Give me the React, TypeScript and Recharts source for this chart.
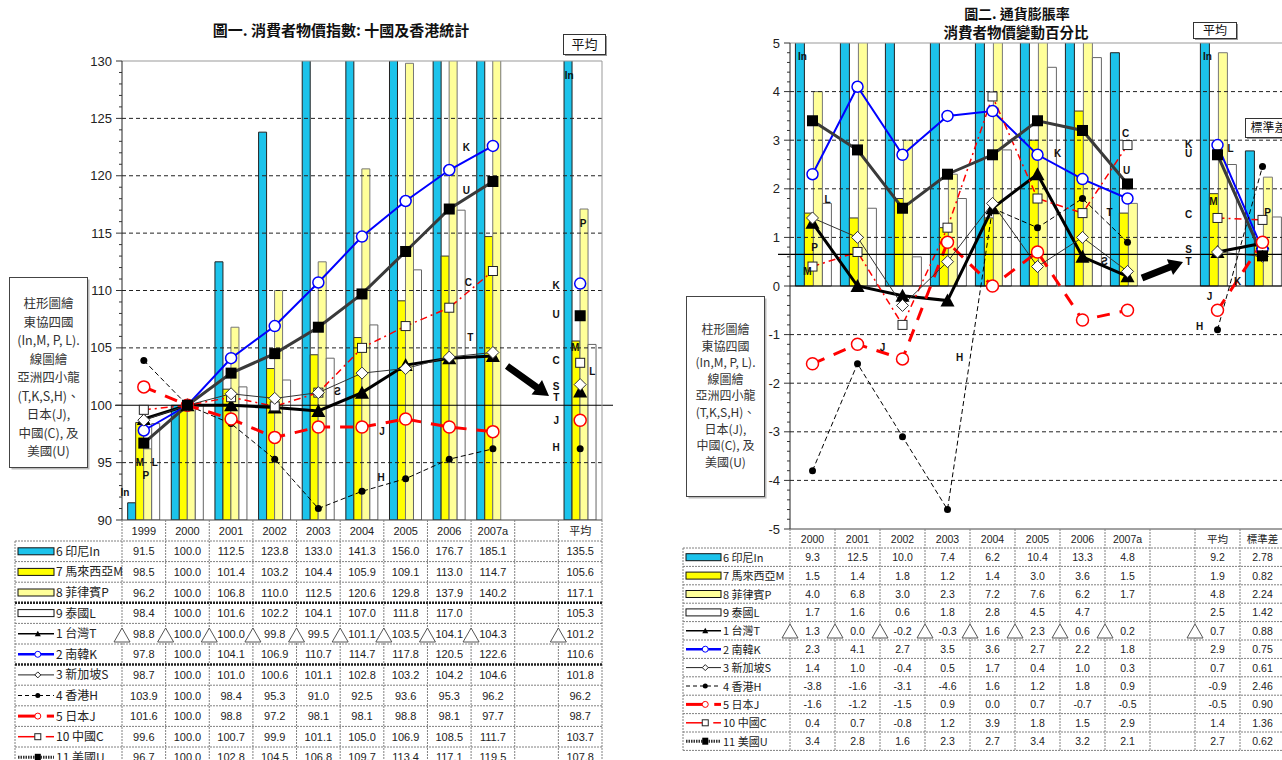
import React from 'react';
import { ComposedChart, Bar, Line, XAxis, YAxis, ReferenceLine, ReferenceDot } from 'recharts';

const SANS = '"Liberation Sans", Arial, sans-serif';
const CJK = '"Noto Sans CJK TC", "Noto Sans", sans-serif';

const CYAN = '#1CC3EB';
const YELLOW = '#FFFF00';
const PALE = '#FFFF99';
const RED = '#FF0000';
const BLUE = '#0000FF';

// 圖一: price index, 2000 = 100
const CATS_A = ['1999', '2000', '2001', '2002', '2003', '2004', '2005', '2006', '2007a', '', '平均'];
const IN_A = [91.5, 100.0, 112.5, 123.8, 133.0, 141.3, 156.0, 176.7, 185.1, null, 135.5];
const MY_A = [98.5, 100.0, 101.4, 103.2, 104.4, 105.9, 109.1, 113.0, 114.7, null, 105.6];
const PH_A = [96.2, 100.0, 106.8, 110.0, 112.5, 120.6, 129.8, 137.9, 140.2, null, 117.1];
const TH_A = [98.4, 100.0, 101.6, 102.2, 104.1, 107.0, 111.8, 117.0, null, null, 105.3];
const TW_A = [98.8, 100.0, 100.0, 99.8, 99.5, 101.1, 103.5, 104.1, 104.3, null, 101.2];
const KR_A = [97.8, 100.0, 104.1, 106.9, 110.7, 114.7, 117.8, 120.5, 122.6, null, 110.6];
const SG_A = [98.7, 100.0, 101.0, 100.6, 101.1, 102.8, 103.2, 104.2, 104.6, null, 101.8];
const HK_A = [103.9, 100.0, 98.4, 95.3, 91.0, 92.5, 93.6, 95.3, 96.2, null, 96.2];
const JP_A = [101.6, 100.0, 98.8, 97.2, 98.1, 98.1, 98.8, 98.1, 97.7, null, 98.7];
const CN_A = [99.6, 100.0, 100.7, 99.9, 101.1, 105.0, 106.9, 108.5, 111.7, null, 103.7];
const US_A = [96.7, 100.0, 102.8, 104.5, 106.8, 109.7, 113.4, 117.1, 119.5, null, 107.8];

// 圖二: inflation, % change
const CATS_B = ['2000', '2001', '2002', '2003', '2004', '2005', '2006', '2007a', '', '平均', '標準差'];
const IN_B = [9.3, 12.5, 10.0, 7.4, 6.2, 10.4, 13.3, 4.8, null, 9.2, 2.78];
const MY_B = [1.5, 1.4, 1.8, 1.2, 1.4, 3.0, 3.6, 1.5, null, 1.9, 0.82];
const PH_B = [4.0, 6.8, 3.0, 2.3, 7.2, 7.6, 6.2, 1.7, null, 4.8, 2.24];
const TH_B = [1.7, 1.6, 0.6, 1.8, 2.8, 4.5, 4.7, null, null, 2.5, 1.42];
const TW_B = [1.3, 0.0, -0.2, -0.3, 1.6, 2.3, 0.6, 0.2, null, 0.7, 0.88];
const KR_B = [2.3, 4.1, 2.7, 3.5, 3.6, 2.7, 2.2, 1.8, null, 2.9, 0.75];
const SG_B = [1.4, 1.0, -0.4, 0.5, 1.7, 0.4, 1.0, 0.3, null, 0.7, 0.61];
const HK_B = [-3.8, -1.6, -3.1, -4.6, 1.6, 1.2, 1.8, 0.9, null, -0.9, 2.46];
const JP_B = [-1.6, -1.2, -1.5, 0.9, 0.0, 0.7, -0.7, -0.5, null, -0.5, 0.90];
const CN_B = [0.4, 0.7, -0.8, 1.2, 3.9, 1.8, 1.5, 2.9, null, 1.4, 1.36];
const US_B = [3.4, 2.8, 1.6, 2.3, 2.7, 3.4, 3.2, 2.1, null, 2.7, 0.62];

const TICKS_A = Array.from({ length: 41 }, (_, i) => 90 + i);
const TICKS_B = Array.from({ length: 51 }, (_, i) => Math.round((-5 + i * 0.2) * 10) / 10);
const GRID_A = [95, 105, 110, 115, 120, 125];
const GRID_B = [-4, -3, -2, -1, 1, 2, 3, 4];
const BASE_A = 100;
const BASE_B = 0.65;

const KEYS = ['In', 'M', 'P', 'L', 'T', 'K', 'S', 'H', 'J', 'C', 'U'];
const ROW_LABELS = ['6 印尼In', '7 馬來西亞M', '8 菲律賓P', '9 泰國L', '1 台灣T', '2 南韓K', '3 新加坡S', '4 香港H', '5 日本J', '10 中國C', '11 美國U'];
const NOTE_LINES = ['柱形圖繪', '東協四國', '(In,M, P, L).', '線圖繪', '亞洲四小龍', '(T,K,S,H)、', '日本(J),', '中國(C), 及', '美國(U)'];

const SERIES_A = [IN_A, MY_A, PH_A, TH_A, TW_A, KR_A, SG_A, HK_A, JP_A, CN_A, US_A];
const SERIES_B = [IN_B, MY_B, PH_B, TH_B, TW_B, KR_B, SG_B, HK_B, JP_B, CN_B, US_B];

type Note = { x: string; y: number; t: string; dx: number; flip?: boolean };

const NOTES_A: Note[] = [
  { x: '2006', y: 122.5, t: 'K', dx: 17 },
  { x: '2006', y: 118.7, t: 'U', dx: 17 },
  { x: '2006', y: 110.7, t: 'C', dx: 19 },
  { x: '2006', y: 105.9, t: 'T', dx: 21 },
  { x: '2003', y: 101.2, t: 'S', dx: 19, flip: true },
  { x: '2004', y: 97.7, t: 'J', dx: 20 },
  { x: '2004', y: 93.7, t: 'H', dx: 19 },
  { x: '平均', y: 110.4, t: 'K', dx: -24 },
  { x: '平均', y: 107.9, t: 'U', dx: -24 },
  { x: '平均', y: 103.9, t: 'C', dx: -24 },
  { x: '平均', y: 101.6, t: 'S', dx: -24 },
  { x: '平均', y: 100.7, t: 'T', dx: -24 },
  { x: '平均', y: 98.7, t: 'J', dx: -24 },
  { x: '平均', y: 96.3, t: 'H', dx: -24 },
  { x: '平均', y: 128.7, t: 'In', dx: -11 },
  { x: '平均', y: 115.8, t: 'P', dx: 3 },
  { x: '平均', y: 105.0, t: 'M', dx: -5 },
  { x: '平均', y: 102.9, t: 'L', dx: 12 },
  { x: '1999', y: 92.4, t: 'In', dx: -19 },
  { x: '1999', y: 95.0, t: 'M', dx: -4 },
  { x: '1999', y: 93.9, t: 'P', dx: 2 },
  { x: '1999', y: 95.0, t: 'L', dx: 11 },
];

const NOTES_B: Note[] = [
  { x: '2000', y: 4.73, t: 'In', dx: -10 },
  { x: '2000', y: 0.8, t: 'P', dx: 2 },
  { x: '2000', y: 0.29, t: 'M', dx: -5 },
  { x: '2000', y: 1.79, t: 'L', dx: 15 },
  { x: '2005', y: 2.72, t: 'K', dx: 20 },
  { x: '2007a', y: 3.13, t: 'C', dx: -2 },
  { x: '2007a', y: 2.37, t: 'U', dx: -1 },
  { x: '2006', y: 1.52, t: 'T', dx: 27 },
  { x: '2006', y: 0.51, t: 'S', dx: 22, flip: true },
  { x: '2001', y: -1.26, t: 'J', dx: 25 },
  { x: '2003', y: -1.48, t: 'H', dx: 12 },
  { x: '平均', y: 2.92, t: 'K', dx: -29 },
  { x: '平均', y: 2.72, t: 'U', dx: -29 },
  { x: '平均', y: 1.48, t: 'C', dx: -29 },
  { x: '平均', y: 0.76, t: 'S', dx: -29 },
  { x: '平均', y: 0.51, t: 'T', dx: -29 },
  { x: '平均', y: 4.73, t: 'In', dx: -10 },
  { x: '平均', y: 1.73, t: 'M', dx: -4 },
  { x: '平均', y: 2.82, t: 'L', dx: 13 },
  { x: '標準差', y: 1.52, t: 'P', dx: 5 },
  { x: '標準差', y: 0.1, t: 'K', dx: -25 },
  { x: '平均', y: -0.21, t: 'J', dx: -8 },
  { x: '平均', y: -0.84, t: 'H', dx: -18 },
];

const rowsOf = (cats: string[], series: (number | null)[][]) =>
  cats.map((cat, i) => {
    const row: Record<string, any> = { cat };
    KEYS.forEach((k, j) => (row[k] = series[j][i]));
    return row;
  });

// ---- markers ----
const dotOf = (draw: (cx: number, cy: number) => React.ReactNode) => (p: any) => {
  if (p.cx == null || p.cy == null || p.value == null) return <g key={`d${p.index}`} />;
  return <g key={`d${p.index}`}>{draw(p.cx, p.cy)}</g>;
};
const triDot = dotOf((x, y) => <polygon points={`${x - 7},${y + 6} ${x + 7},${y + 6} ${x},${y - 7}`} fill="#000" />);
const kDot = dotOf((x, y) => <circle cx={x} cy={y} r={5.5} fill="#fff" stroke={BLUE} strokeWidth={1.5} />);
const sDot = dotOf((x, y) => <polygon points={`${x},${y - 6} ${x + 6},${y} ${x},${y + 6} ${x - 6},${y}`} fill="#fff" stroke="#333" />);
const hDot = dotOf((x, y) => <circle cx={x} cy={y} r={3.5} fill="#000" />);
const jDot = dotOf((x, y) => <circle cx={x} cy={y} r={6} fill="#fff" stroke={RED} strokeWidth={1.5} />);
const cDot = dotOf((x, y) => <rect x={x - 4.5} y={y - 4.5} width={9} height={9} fill="#fff" stroke="#222" />);
const uDot = dotOf((x, y) => <rect x={x - 5.5} y={y - 5.5} width={11} height={11} fill="#000" />);

const yTick = (step: number) => (p: any) => {
  const v = p.payload.value;
  const ax = p.x + 8;
  const major = Math.abs(v / step - Math.round(v / step)) < 1e-6;
  return (
    <g>
      <line x1={ax - (major ? 6 : 3)} x2={ax} y1={p.y} y2={p.y} stroke="#333" />
      {major && (
        <text x={ax - 10} y={p.y + 4.5} textAnchor="end" fontSize={13} fontFamily={SANS} fill="#222">
          {v}
        </text>
      )}
    </g>
  );
};

const wideLine = (left: number, right: number) => (p: any) => (
  <line x1={Math.min(p.x1, p.x2) - left} x2={Math.max(p.x1, p.x2) + right} y1={p.y1} y2={p.y2} stroke="#000" strokeWidth={1.2} />
);

const noteLabel = (n: Note) => (p: any) => {
  const x = p.viewBox.x + n.dx;
  const y = p.viewBox.y;
  return (
    <text
      x={0}
      y={0}
      transform={`translate(${x},${y})${n.flip ? ' scale(-1,1)' : ''}`}
      dy={3.5}
      textAnchor="middle"
      fontSize={10}
      fontWeight={700}
      fontFamily={SANS}
      fill="#111"
    >
      {n.t}
    </text>
  );
};

function seriesMarks() {
  return [
    <Bar key="In" dataKey="In" fill={CYAN} stroke="#222" isAnimationActive={false} />,
    <Bar key="M" dataKey="M" fill={YELLOW} stroke="#333" isAnimationActive={false} />,
    <Bar key="P" dataKey="P" fill={PALE} stroke="#777" isAnimationActive={false} />,
    <Bar key="L" dataKey="L" fill="#fff" stroke="#666" isAnimationActive={false} />,
    <Line key="T" dataKey="T" stroke="#000" strokeWidth={3} dot={triDot} activeDot={false} isAnimationActive={false} />,
    <Line key="K" dataKey="K" stroke={BLUE} strokeWidth={2} dot={kDot} activeDot={false} isAnimationActive={false} />,
    <Line key="H" dataKey="H" stroke="#000" strokeWidth={1} strokeDasharray="5 3" dot={hDot} activeDot={false} isAnimationActive={false} />,
    <Line key="J" dataKey="J" stroke={RED} strokeWidth={3} strokeDasharray="13 10" dot={jDot} activeDot={false} isAnimationActive={false} />,
    <Line key="C" dataKey="C" stroke={RED} strokeWidth={1.5} strokeDasharray="7 4 2 4" dot={cDot} activeDot={false} isAnimationActive={false} />,
    <Line key="S" dataKey="S" stroke="#333" strokeWidth={1} dot={sDot} activeDot={false} isAnimationActive={false} />,
    <Line key="U" dataKey="U" stroke="#3a3a3a" strokeWidth={3} dot={uDot} activeDot={false} isAnimationActive={false} />,
  ];
}

function IndexChart() {
  const data = rowsOf(CATS_A, SERIES_A);
  return (
    <ComposedChart width={640} height={530} data={data} margin={{ top: 61, right: 38, bottom: 10, left: 82 }} barGap={0} barCategoryGap="13%">
      <XAxis dataKey="cat" hide />
      <YAxis domain={[90, 130]} ticks={TICKS_A} interval={0} allowDataOverflow width={40} tickSize={6} tickMargin={2} tickLine={false} axisLine={{ stroke: '#222' }} tick={yTick(5)} />
      {GRID_A.map((v) => (
        <ReferenceLine key={v} y={v} stroke="#222" strokeDasharray="4 3" />
      ))}
      <ReferenceLine y={130} stroke="#999" />
      {seriesMarks()}
      <ReferenceLine y={BASE_A} shape={wideLine(7, 11)} />
      {NOTES_A.map((n, i) => (
        <ReferenceDot key={i} x={n.x} y={n.y} r={0} fill="none" stroke="none" label={{ content: noteLabel(n) }} />
      ))}
    </ComposedChart>
  );
}

function InflationChart() {
  const data = rowsOf(CATS_B, SERIES_B);
  return (
    <ComposedChart width={640} height={540} data={data} margin={{ top: 43, right: 5, bottom: 11, left: 100 }} barGap={0} barCategoryGap="12%">
      <XAxis dataKey="cat" hide />
      <YAxis domain={[-5, 5]} ticks={TICKS_B} interval={0} allowDataOverflow width={40} tickSize={6} tickMargin={2} tickLine={false} axisLine={{ stroke: '#222' }} tick={yTick(1)} />
      {GRID_B.map((v) => (
        <ReferenceLine key={v} y={v} stroke="#222" strokeDasharray="4 3" />
      ))}
      <ReferenceLine y={5} stroke="#999" />
      <ReferenceLine y={0} stroke="#000" strokeWidth={1.2} />
      {seriesMarks()}
      <ReferenceLine y={BASE_B} shape={wideLine(12, 0)} />
      {NOTES_B.map((n, i) => (
        <ReferenceDot key={i} x={n.x} y={n.y} r={0} fill="none" stroke="none" label={{ content: noteLabel(n) }} />
      ))}
    </ComposedChart>
  );
}

// ---- data tables under the plots ----
function Swatch({ kind, x, y, w }: { kind: string; x: number; y: number; w: number }) {
  const m = x + w * 0.55;
  const bar = (fill: string) => <rect x={x} y={y - 3.5} width={w} height={7} fill={fill} stroke="#111" />;
  switch (kind) {
    case 'In': return bar(CYAN);
    case 'M': return bar(YELLOW);
    case 'P': return bar(PALE);
    case 'L': return bar('#fff');
    case 'T':
      return (
        <g>
          <line x1={x} x2={x + w} y1={y} y2={y} stroke="#000" strokeWidth={1.5} />
          <polygon points={`${m - 3},${y + 2.5} ${m + 3},${y + 2.5} ${m},${y - 3}`} fill="#000" />
        </g>
      );
    case 'K':
      return (
        <g>
          <line x1={x} x2={x + w} y1={y} y2={y} stroke={BLUE} strokeWidth={2.5} />
          <circle cx={m} cy={y} r={3} fill="#fff" stroke={BLUE} />
        </g>
      );
    case 'S':
      return (
        <g>
          <line x1={x} x2={x + w} y1={y} y2={y} stroke="#222" />
          <polygon points={`${m},${y - 3} ${m + 3},${y} ${m},${y + 3} ${m - 3},${y}`} fill="#fff" stroke="#222" />
        </g>
      );
    case 'H':
      return (
        <g>
          <line x1={x} x2={x + w} y1={y} y2={y} stroke="#000" strokeDasharray="4 3" />
          <circle cx={m} cy={y} r={2.5} fill="#000" />
        </g>
      );
    case 'J':
      return (
        <g>
          <line x1={x} x2={m} y1={y} y2={y} stroke={RED} strokeWidth={3} />
          <line x1={m + 9} x2={x + w} y1={y} y2={y} stroke={RED} strokeWidth={3} />
          <circle cx={m} cy={y} r={3} fill="#fff" stroke={RED} />
        </g>
      );
    case 'C':
      return (
        <g>
          <line x1={x} x2={m} y1={y} y2={y} stroke={RED} strokeWidth={1.5} />
          <line x1={m + 8} x2={x + w} y1={y} y2={y} stroke={RED} strokeWidth={1.5} />
          <rect x={m - 3} y={y - 3} width={6} height={6} fill="#fff" stroke="#222" />
        </g>
      );
    default:
      return (
        <g>
          <line x1={x} x2={x + w} y1={y} y2={y} stroke="#333" strokeWidth={3} strokeDasharray="1.5 1" />
          <rect x={m - 3} y={y - 3.5} width={6} height={7} fill="#000" />
        </g>
      );
  }
}

type TableLayout = {
  left: number; split: number; colW: number; top: number; headH: number; rowH: number;
  numSize: number; labelSize: number; swW: number;
  tri: number[]; thick: number[]; cats: string[]; series: (number | null)[][];
  digits: (c: number) => number;
};

function DataTable({ t }: { t: TableLayout }) {
  const right = t.split + t.colW * t.cats.length;
  const body = t.top + t.headH;
  const bottom = body + t.rowH * t.series.length;
  const grid = '#808080';
  const els: React.ReactNode[] = [];
  els.push(<line key="top" x1={t.split} x2={right} y1={t.top} y2={t.top} stroke="#444" />);
  for (let r = 0; r <= t.series.length; r++) {
    const y = body + r * t.rowH;
    els.push(<line key={`h${r}`} x1={t.left} x2={right} y1={y} y2={y} stroke={grid} strokeDasharray="2 1" />);
  }
  els.push(<line key="vl" x1={t.left} x2={t.left} y1={body} y2={bottom} stroke={grid} strokeDasharray="2 1" />);
  for (let c = 0; c <= t.cats.length; c++) {
    const x = t.split + c * t.colW;
    els.push(<line key={`v${c}`} x1={x} x2={x} y1={t.top} y2={bottom} stroke={grid} strokeDasharray="2 1" />);
  }
  t.thick.forEach((r) => {
    const y = body + r * t.rowH;
    els.push(<line key={`k${r}`} x1={t.left} x2={right} y1={y} y2={y} stroke="#222" strokeWidth={2.5} strokeDasharray="2 1" />);
  });
  t.cats.forEach((c, i) => {
    els.push(
      <text key={`c${i}`} x={t.split + (i + 0.5) * t.colW} y={t.top + t.headH / 2 + 4} textAnchor="middle" fontSize={t.numSize} fontFamily={/[^\x00-\x7f]/.test(c) ? CJK : SANS} fill="#222">
        {c}
      </text>
    );
  });
  t.series.forEach((vals, r) => {
    const yc = body + (r + 0.5) * t.rowH;
    els.push(<Swatch key={`s${r}`} kind={KEYS[r]} x={t.left + 3} y={yc} w={t.swW} />);
    els.push(
      <text key={`l${r}`} x={t.left + t.swW + 5} y={yc + 4.5} fontSize={t.labelSize} fontFamily={CJK} fill="#222">
        {ROW_LABELS[r]}
      </text>
    );
    vals.forEach((v, c) => {
      if (v == null) return;
      els.push(
        <text key={`n${r}-${c}`} x={t.split + (c + 0.5) * t.colW} y={yc + 4} textAnchor="middle" fontSize={t.numSize} fontFamily={SANS} fill="#222">
          {v.toFixed(t.digits(c))}
        </text>
      );
    });
  });
  const tr = body + 5 * t.rowH;
  t.tri.forEach((c) => {
    const x = t.split + c * t.colW;
    els.push(<polygon key={`t${c}`} points={`${x - 8},${tr - 2} ${x + 8},${tr - 2} ${x},${tr - 16}`} fill="#fff" stroke="#555" />);
  });
  return <g>{els}</g>;
}

const TABLE_A: TableLayout = {
  left: 15, split: 122, colW: 480 / 11, top: 520, headH: 21, rowH: 20.6,
  numSize: 11, labelSize: 12, swW: 36, tri: [0, 1, 2, 3, 4, 5, 6, 7, 8, 10], thick: [3, 6],
  cats: CATS_A, series: SERIES_A, digits: () => 1,
};
const TABLE_B: TableLayout = {
  left: 683, split: 790, colW: 45, top: 529, headH: 19, rowH: 18.4,
  numSize: 10.5, labelSize: 11, swW: 35, tri: [0, 1, 2, 3, 4, 5, 6, 7, 9], thick: [],
  cats: CATS_B, series: SERIES_B, digits: (c) => (c === 10 ? 2 : 1),
};

function arrow(x1: number, y1: number, x2: number, y2: number, shaft: number, head: number, hl: number) {
  const L = Math.hypot(x2 - x1, y2 - y1);
  const ux = (x2 - x1) / L, uy = (y2 - y1) / L;
  const nx = -uy, ny = ux;
  const bx = x2 - ux * hl, by = y2 - uy * hl;
  const pts = [
    [x1 + (nx * shaft) / 2, y1 + (ny * shaft) / 2],
    [bx + (nx * shaft) / 2, by + (ny * shaft) / 2],
    [bx + (nx * head) / 2, by + (ny * head) / 2],
    [x2, y2],
    [bx - (nx * head) / 2, by - (ny * head) / 2],
    [bx - (nx * shaft) / 2, by - (ny * shaft) / 2],
    [x1 - (nx * shaft) / 2, y1 - (ny * shaft) / 2],
  ];
  return pts.map((p) => p.join(',')).join(' ');
}

function NoteBox({ x, y, w, h, step, size, first }: { x: number; y: number; w: number; h: number; step: number; size: number; first: number }) {
  return (
    <g>
      <rect x={x + 2} y={y + 2} width={w} height={h} fill="#bbb" />
      <rect x={x} y={y} width={w} height={h} fill="#fff" stroke="#444" />
      {NOTE_LINES.map((s, i) => (
        <text key={i} x={x + w / 2} y={first + i * step} textAnchor="middle" fontSize={size} fontFamily={CJK} fill="#333">
          {s}
        </text>
      ))}
    </g>
  );
}

function TagBox({ x, y, w, h, text, size }: { x: number; y: number; w: number; h: number; text: string; size: number }) {
  return (
    <g>
      <rect x={x + 1.5} y={y + 1.5} width={w} height={h} fill="#999" />
      <rect x={x} y={y} width={w} height={h} fill="#fff" stroke="#333" />
      <text x={x + w / 2} y={y + h / 2 + size * 0.36} textAnchor="middle" fontSize={size} fontFamily={CJK} fill="#111">
        {text}
      </text>
    </g>
  );
}

export default function App() {
  return (
    <div style={{ position: 'absolute', left: 0, top: 0, width: 1282, height: 760, overflow: 'hidden', background: '#fff' }}>
      <div style={{ position: 'absolute', left: 0, top: 0 }}>
        <IndexChart />
      </div>
      <div style={{ position: 'absolute', left: 650, top: 0 }}>
        <InflationChart />
      </div>
      <svg width={1282} height={760} style={{ position: 'absolute', left: 0, top: 0, pointerEvents: 'none' }}>
        <line x1={602} x2={602} y1={61} y2={520} stroke="#999" />
        <text x={341} y={36} textAnchor="middle" fontSize={15} fontWeight={700} fontFamily={CJK} fill="#111">
          圖一. 消費者物價指數: 十國及香港統計
        </text>
        <text x={1017} y={19} textAnchor="middle" fontSize={14} fontWeight={700} fontFamily={CJK} fill="#111">
          圖二. 通貨膨脹率
        </text>
        <text x={1016} y={38} textAnchor="middle" fontSize={14.5} fontWeight={700} fontFamily={CJK} fill="#111">
          消費者物價變動百分比
        </text>
        <TagBox x={563.5} y={34.5} w={42} h={20} text="平均" size={13} />
        <TagBox x={1193.5} y={22.5} w={43} h={16} text="平均" size={12} />
        <TagBox x={1245.5} y={118.5} w={46} h={19} text="標準差" size={12} />
        <NoteBox x={9.5} y={277.5} w={78} h={190} step={18.5} size={12.5} first={308} />
        <NoteBox x={686.5} y={296.5} w={78} h={200} step={16.6} size={12} first={334} />
        <polygon points={arrow(507, 366, 549, 396, 7, 18, 15)} fill="#000" />
        <polygon points={arrow(1142, 278, 1183, 262, 7, 17, 14)} fill="#000" />
        <DataTable t={TABLE_A} />
        <DataTable t={TABLE_B} />
      </svg>
    </div>
  );
}
